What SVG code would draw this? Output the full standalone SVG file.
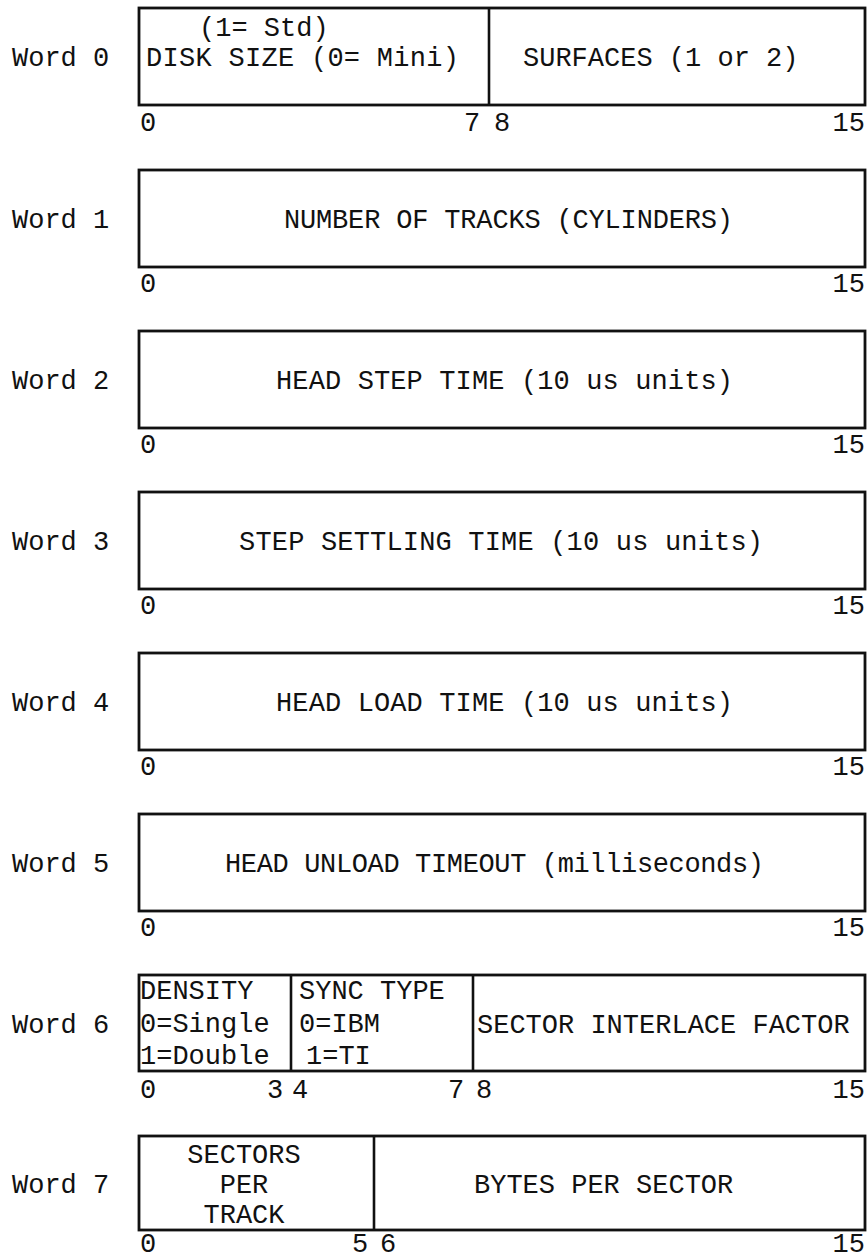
<svg xmlns="http://www.w3.org/2000/svg" width="867" height="1260" viewBox="0 0 867 1260">
<style>
text{font-family:"Liberation Mono","DejaVu Sans Mono",monospace;font-size:27px;fill:#111;}
.box{fill:#fff;stroke:#111;stroke-width:2.8;}
.div{stroke:#111;stroke-width:2.6;}
.m{text-anchor:middle;}
.e{text-anchor:end;}
</style>
<rect width="867" height="1260" fill="#fff"/>
<g id="connectors"/>

<g id="word0">
<text x="12" y="66">Word 0</text>
<rect class="box" x="139" y="8" width="726" height="97"/>
<line class="div" x1="489" y1="8" x2="489" y2="105"/>
<text x="199" y="36">(1= Std)</text>
<text x="146" y="66" textLength="313">DISK SIZE (0= Mini)</text>
<text x="523" y="66">SURFACES (1 or 2)</text>
<text x="140" y="131">0</text>
<text x="464" y="131">7</text>
<text x="494" y="131">8</text>
<text class="e" x="865" y="131">15</text>
</g>

<g id="word1">
<text x="12" y="228">Word 1</text>
<rect class="box" x="139" y="170" width="726" height="97"/>
<text x="284" y="228" textLength="449">NUMBER OF TRACKS (CYLINDERS)</text>
<text x="140" y="292">0</text>
<text class="e" x="865" y="292">15</text>
</g>

<g id="word2">
<text x="12" y="389">Word 2</text>
<rect class="box" x="139" y="331" width="726" height="97"/>
<text x="276" y="389" textLength="457">HEAD STEP TIME (10 us units)</text>
<text x="140" y="453">0</text>
<text class="e" x="865" y="453">15</text>
</g>

<g id="word3">
<text x="12" y="550">Word 3</text>
<rect class="box" x="139" y="492" width="726" height="97"/>
<text x="239" y="550" textLength="524">STEP SETTLING TIME (10 us units)</text>
<text x="140" y="614">0</text>
<text class="e" x="865" y="614">15</text>
</g>

<g id="word4">
<text x="12" y="711">Word 4</text>
<rect class="box" x="139" y="653" width="726" height="97"/>
<text x="276" y="711" textLength="457">HEAD LOAD TIME (10 us units)</text>
<text x="140" y="775">0</text>
<text class="e" x="865" y="775">15</text>
</g>

<g id="word5">
<text x="12" y="872">Word 5</text>
<rect class="box" x="139" y="814" width="726" height="97"/>
<text x="225" y="872" textLength="539">HEAD UNLOAD TIMEOUT (milliseconds)</text>
<text x="140" y="936">0</text>
<text class="e" x="865" y="936">15</text>
</g>

<g id="word6">
<text x="12" y="1033">Word 6</text>
<rect class="box" x="139" y="975" width="726" height="96"/>
<line class="div" x1="291" y1="975" x2="291" y2="1071"/>
<line class="div" x1="473" y1="975" x2="473" y2="1071"/>
<text x="140" y="999">DENSITY</text>
<text x="140" y="1032">0=Single</text>
<text x="140" y="1064">1=Double</text>
<text x="299" y="999">SYNC TYPE</text>
<text x="299" y="1032">0=IBM</text>
<text x="306" y="1064">1=TI</text>
<text x="477" y="1033">SECTOR INTERLACE FACTOR</text>
<text x="140" y="1098">0</text>
<text x="267" y="1098">3</text>
<text x="292" y="1098">4</text>
<text x="448" y="1098">7</text>
<text x="476" y="1098">8</text>
<text class="e" x="865" y="1098">15</text>
</g>

<g id="word7">
<text x="12" y="1193">Word 7</text>
<rect class="box" x="139" y="1136" width="726" height="94"/>
<line class="div" x1="374" y1="1136" x2="374" y2="1230"/>
<text class="m" x="244" y="1163">SECTORS</text>
<text class="m" x="244" y="1193">PER</text>
<text class="m" x="244" y="1223">TRACK</text>
<text x="474" y="1193">BYTES PER SECTOR</text>
<text x="140" y="1252">0</text>
<text x="352" y="1252">5</text>
<text x="380" y="1252">6</text>
<text class="e" x="865" y="1252">15</text>
</g>
</svg>
